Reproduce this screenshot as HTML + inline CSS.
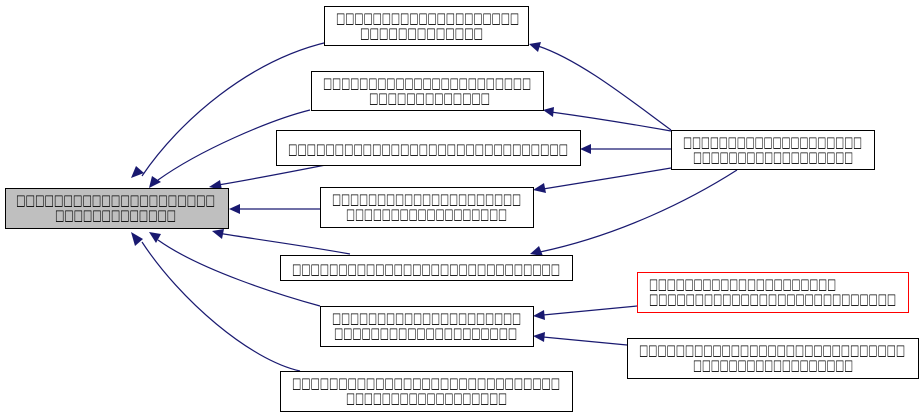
<!DOCTYPE html>
<html><head><style>body{margin:0;background:#fff}svg{display:block}text{font-family:"DejaVu Sans",sans-serif;font-size:15px;fill:#000}</style></head>
<body>
<svg width="924" height="417" viewBox="0 0 924 417" xmlns="http://www.w3.org/2000/svg">
<g fill="none" stroke="#191970" stroke-width="1.2">
<path d="M328,42 C250,60 180,120 142,176"/>
<path d="M310,110 C270,120 200,150 158,180"/>
<path d="M346,161 C300,170 260,178 218,185"/>
<path d="M320,209 L236,209"/>
<path d="M350,254 C300,245 260,240 218,233"/>
<path d="M320,306 C280,295 200,270 158,240"/>
<path d="M300,371 C250,360 180,300 142,242"/>
<path d="M671,131 C620,122 580,116 551,112"/>
<path d="M671,149 L590,149"/>
<path d="M671,168 C630,175 580,183 543,189"/>
<path d="M737,170 C690,200 620,235 540,252"/>
<path d="M671,130 C630,100 580,60 538,46"/>
<path d="M637,306 L543,315"/>
<path d="M627,345 L543,337"/>
</g>
<g fill="#191970">
<path d="M131,178 l5,-12 l8,7 z"/>
<path d="M149,188 l3,-12 l9,6 z"/>
<path d="M209,187 l11,-7 l2,10 z"/>
<path d="M229,209 l11,-5 l0,10 z"/>
<path d="M212,231 l12,-2 l-2,10 z"/>
<path d="M149,232 l12,2 l-5,9 z"/>
<path d="M131,232 l12,7 l-8,7 z"/>
<path d="M543,110 l11,-3 l-1,10 z"/>
<path d="M580,149 l11,-5 l0,10 z"/>
<path d="M533,190 l11,-7 l2,10 z"/>
<path d="M530,254 l9,-8 l4,10 z"/>
<path d="M529,44 l12,-2 l-3,10 z"/>
<path d="M533,316 l11,-6 l1,10 z"/>
<path d="M533,336 l12,-4 l-1,10 z"/>
</g>
<g stroke="#000" stroke-width="1" fill="#fff">
<rect x="5.5" y="188.5" width="223" height="40" fill="#bfbfbf"/>
<rect x="324.5" y="6.5" width="204" height="39"/>
<rect x="311.5" y="71.5" width="232" height="39"/>
<rect x="276.5" y="130.5" width="304" height="35"/>
<rect x="320.5" y="187.5" width="213" height="40"/>
<rect x="280.5" y="255.5" width="292" height="25"/>
<rect x="320.5" y="306.5" width="213" height="40"/>
<rect x="280.5" y="371.5" width="292" height="40"/>
<rect x="671.5" y="130.5" width="203" height="39"/>
<rect x="637.5" y="272.5" width="271" height="40" stroke="#f00"/>
<rect x="627.5" y="338.5" width="291" height="40"/>
</g>
<g>
<text x="16" y="205" textLength="199" lengthAdjust="spacingAndGlyphs">□□□□□□□□□□□□□□□□□□□□□</text>
<text x="55" y="220" textLength="121" lengthAdjust="spacingAndGlyphs">□□□□□□□□□□□□□</text>
<text x="336" y="23" textLength="183" lengthAdjust="spacingAndGlyphs">□□□□□□□□□□□□□□□□□□□□</text>
<text x="360" y="38" textLength="123" lengthAdjust="spacingAndGlyphs">□□□□□□□□□□□□□</text>
<text x="323" y="88" textLength="208" lengthAdjust="spacingAndGlyphs">□□□□□□□□□□□□□□□□□□□□□□□</text>
<text x="369" y="103" textLength="121" lengthAdjust="spacingAndGlyphs">□□□□□□□□□□□□□</text>
<text x="288" y="154" textLength="280" lengthAdjust="spacingAndGlyphs">□□□□□□□□□□□□□□□□□□□□□□□□□□□□□□</text>
<text x="332" y="204" textLength="189" lengthAdjust="spacingAndGlyphs">□□□□□□□□□□□□□□□□□□□□□</text>
<text x="346" y="219" textLength="161" lengthAdjust="spacingAndGlyphs">□□□□□□□□□□□□□□□□□□</text>
<text x="292" y="274" textLength="268" lengthAdjust="spacingAndGlyphs">□□□□□□□□□□□□□□□□□□□□□□□□□□□□□</text>
<text x="332" y="323" textLength="189" lengthAdjust="spacingAndGlyphs">□□□□□□□□□□□□□□□□□□□□□</text>
<text x="334" y="338" textLength="183" lengthAdjust="spacingAndGlyphs">□□□□□□□□□□□□□□□□□□□□</text>
<text x="292" y="388" textLength="268" lengthAdjust="spacingAndGlyphs">□□□□□□□□□□□□□□□□□□□□□□□□□□□□□</text>
<text x="346" y="403" textLength="161" lengthAdjust="spacingAndGlyphs">□□□□□□□□□□□□□□□□□□</text>
<text x="683" y="147" textLength="179" lengthAdjust="spacingAndGlyphs">□□□□□□□□□□□□□□□□□□□□</text>
<text x="693" y="162" textLength="160" lengthAdjust="spacingAndGlyphs">□□□□□□□□□□□□□□□□□□</text>
<text x="649" y="289" textLength="187" lengthAdjust="spacingAndGlyphs">□□□□□□□□□□□□□□□□□□□□□</text>
<text x="649" y="304" textLength="247" lengthAdjust="spacingAndGlyphs">□□□□□□□□□□□□□□□□□□□□□□□□□□□</text>
<text x="639" y="355" textLength="266" lengthAdjust="spacingAndGlyphs">□□□□□□□□□□□□□□□□□□□□□□□□□□□□□</text>
<text x="693" y="370" textLength="160" lengthAdjust="spacingAndGlyphs">□□□□□□□□□□□□□□□□□□</text>
</g>
</svg>
</body></html>
